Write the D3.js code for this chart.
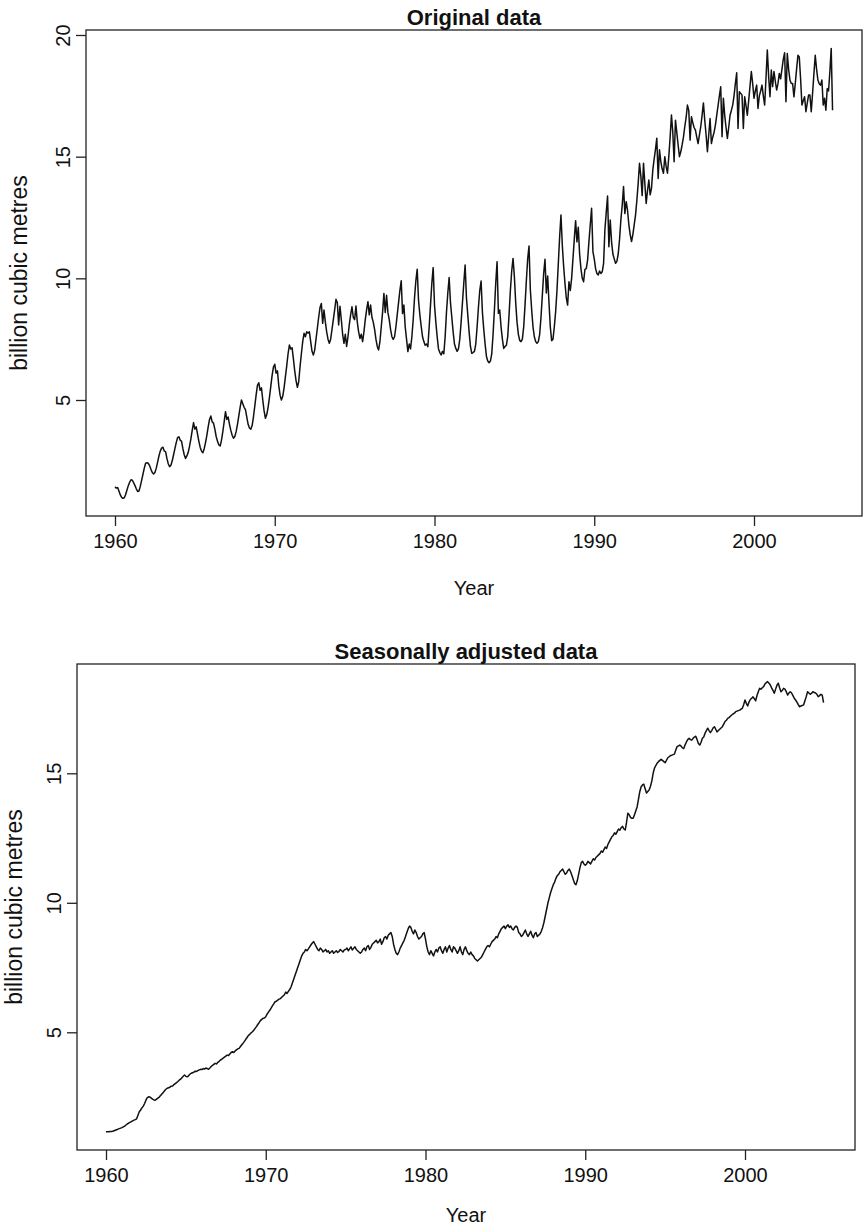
<!DOCTYPE html>
<html>
<head>
<meta charset="utf-8">
<script src="https://cdn.jsdelivr.net/npm/d3@7"></script>
<style>
  html, body { margin: 0; padding: 0; background: #fff; }
  svg { display: block; }
  text { font-family: "Liberation Sans", Arial, Helvetica, sans-serif; fill: #111; }
</style>
</head>
<body>
<svg id="chart" width="864" height="1231"></svg>
<script>
// ---------------- DATA (monthly, Jan 1960 - Dec 2004) ----------------
const startYear = 1960;
const xTickValues = [1960, 1970, 1980, 1990, 2000];
const yTicksOriginal = [5, 10, 15, 20];
const yTicksAdjusted = [5, 10, 15];
const panelTitles = ["Original data", "Seasonally adjusted data"];
const xAxisTitle = "Year";
const yAxisTitle = "billion cubic metres";

const originalValues = [
  1.43,1.38,1.40,1.25,1.10,1.00,0.96,0.98,1.12,1.30,1.48,1.62,        // 1960
  1.72,1.70,1.60,1.48,1.35,1.24,1.26,1.45,1.70,1.95,2.20,2.40,        // 1961
  2.42,2.40,2.30,2.15,2.02,1.96,2.02,2.20,2.45,2.70,2.90,3.02,        // 1962
  3.06,2.90,2.88,2.60,2.38,2.26,2.32,2.50,2.75,3.00,3.25,3.45,        // 1963
  3.49,3.35,3.30,3.00,2.75,2.60,2.70,2.85,3.10,3.40,3.75,4.07,        // 1964
  3.80,3.90,3.60,3.30,3.05,2.90,2.83,3.00,3.25,3.55,3.90,4.20,        // 1965
  4.34,4.10,4.05,3.80,3.50,3.30,3.15,3.11,3.35,3.70,4.10,4.52,        // 1966
  4.20,4.30,4.00,3.75,3.55,3.43,3.50,3.70,4.00,4.35,4.70,5.00,        // 1967
  4.85,4.70,4.60,4.30,4.00,3.85,3.80,3.95,4.30,4.75,5.20,5.60,        // 1968
  5.71,5.40,5.50,5.00,4.55,4.25,4.40,4.70,5.10,5.55,6.00,6.35,        // 1969
  6.47,6.10,6.20,5.60,5.20,5.00,5.15,5.50,5.95,6.40,6.90,7.26,        // 1970
  7.10,7.15,6.70,6.20,5.80,5.52,5.75,6.37,6.90,7.40,7.74,7.60,        // 1971
  7.80,7.75,7.80,7.40,7.00,6.85,7.05,7.50,7.95,8.40,8.80,8.97,        // 1972
  8.15,8.70,8.20,7.80,7.50,7.33,7.50,7.90,8.30,8.70,9.14,9.00,        // 1973
  8.08,8.85,8.30,7.70,7.33,7.70,7.20,7.60,8.10,8.50,8.83,8.40,        // 1974
  8.30,8.86,8.20,7.80,7.53,7.70,7.40,7.80,8.30,8.70,9.04,8.50,        // 1975
  8.90,8.40,8.20,7.90,7.50,7.20,7.06,7.40,8.00,8.60,9.38,8.60,        // 1976
  9.30,8.60,8.30,7.90,7.60,7.49,7.60,8.00,8.50,9.00,9.50,9.90,        // 1977
  8.55,8.90,8.00,7.50,6.99,7.30,7.10,7.60,8.30,9.20,9.90,10.37,       // 1978
  9.10,8.50,8.03,7.60,7.40,7.25,7.30,7.19,8.00,8.90,9.80,10.44,       // 1979
  8.90,8.20,7.60,7.10,6.95,6.85,7.00,6.90,7.60,8.60,9.40,10.03,       // 1980
  9.00,8.40,7.80,7.30,7.12,7.00,7.10,7.50,8.20,9.00,9.80,10.55,       // 1981
  9.20,8.50,7.80,7.20,6.92,6.95,7.00,7.30,8.00,8.80,9.50,9.89,        // 1982
  8.60,7.90,7.30,6.80,6.60,6.53,6.60,6.90,7.70,8.70,9.80,10.68,       // 1983
  8.56,8.70,8.00,7.50,7.12,7.20,7.25,7.60,8.50,9.50,10.30,10.82,      // 1984
  10.07,9.00,8.20,7.70,7.45,7.40,7.50,8.00,8.90,9.90,10.80,11.33,     // 1985
  9.52,8.70,8.00,7.60,7.40,7.33,7.40,7.70,8.40,9.30,10.20,10.78,      // 1986
  9.40,10.10,9.00,8.00,7.44,7.50,8.00,8.63,9.50,10.60,11.70,12.60,    // 1987
  11.37,10.50,9.80,9.20,8.90,9.86,9.50,10.00,10.80,11.60,12.37,11.50, // 1988
  12.10,11.00,10.40,10.00,9.86,10.37,10.40,10.75,11.50,12.20,12.88,11.10, // 1989
  10.80,10.40,10.20,10.14,10.30,10.20,10.27,10.60,11.99,12.70,13.38,11.30, // 1990
  12.40,11.50,11.00,10.80,10.62,10.70,11.00,11.60,12.40,13.00,13.77,12.66, // 1991
  13.15,12.80,12.20,11.80,11.51,11.80,12.20,12.60,13.20,13.90,14.73,14.20, // 1992
  13.40,14.73,13.90,13.08,13.60,14.04,13.43,13.70,14.46,14.90,15.30,15.76, // 1993
  14.10,15.28,14.80,14.50,14.32,15.00,14.60,14.32,15.00,15.80,16.71,16.00, // 1994
  14.79,16.50,16.00,15.48,15.00,15.20,15.48,15.80,16.23,16.60,17.12,16.90, // 1995
  15.68,16.64,16.40,16.20,16.09,15.80,15.54,15.90,16.23,16.70,17.21,16.50, // 1996
  15.90,15.20,15.90,16.57,15.54,15.80,16.00,16.30,16.70,17.10,17.50,17.87, // 1997
  15.82,17.40,16.70,16.20,15.75,16.20,16.70,16.90,17.12,17.50,18.00,18.45, // 1998
  16.16,17.67,17.60,17.53,16.16,17.46,17.10,16.70,17.30,17.90,18.50,18.00, // 1999
  17.40,17.70,17.94,16.98,17.50,17.70,17.94,17.50,17.12,18.20,19.38,18.30, // 2000
  17.46,18.56,17.88,18.50,18.10,17.74,18.00,18.42,18.20,18.60,19.00,19.27, // 2001
  17.26,19.24,18.60,18.15,18.01,18.01,17.46,18.00,18.60,19.17,19.10,18.20, // 2002
  17.12,17.30,17.46,16.85,17.20,17.53,17.53,16.85,17.60,18.40,19.17,18.60, // 2003
  18.15,18.00,17.94,18.15,17.12,17.40,16.91,17.80,17.70,18.50,19.45,16.91  // 2004
];

const adjustedValues = [
  1.16,1.16,1.16,1.17,1.17,1.18,1.20,1.22,1.24,1.26,1.28,1.30,        // 1960
  1.32,1.35,1.38,1.42,1.46,1.49,1.52,1.55,1.58,1.61,1.63,1.66,        // 1961
  1.80,1.93,2.00,2.08,2.15,2.25,2.38,2.48,2.51,2.50,2.46,2.42,        // 1962
  2.39,2.38,2.42,2.46,2.50,2.56,2.62,2.68,2.74,2.80,2.84,2.86,        // 1963
  2.88,2.92,2.93,2.98,3.02,3.06,3.10,3.15,3.19,3.24,3.30,3.35,        // 1964
  3.30,3.28,3.32,3.38,3.42,3.44,3.46,3.50,3.49,3.52,3.55,3.57,        // 1965
  3.56,3.60,3.58,3.62,3.60,3.57,3.62,3.68,3.72,3.76,3.80,3.78,        // 1966
  3.84,3.88,3.93,3.96,4.00,4.04,4.08,4.12,4.10,4.16,4.22,4.25,        // 1967
  4.22,4.28,4.32,4.36,4.38,4.45,4.52,4.58,4.65,4.73,4.80,4.88,        // 1968
  4.92,4.98,5.02,5.08,5.15,5.22,5.30,5.37,5.45,5.50,5.54,5.55,        // 1969
  5.60,5.70,5.78,5.85,5.93,6.02,6.10,6.18,6.20,6.24,6.28,6.30,        // 1970
  6.35,6.40,6.45,6.55,6.50,6.58,6.65,6.75,6.90,7.05,7.20,7.35,        // 1971
  7.50,7.65,7.80,7.95,8.05,8.10,8.20,8.15,8.22,8.30,8.38,8.45,        // 1972
  8.50,8.40,8.30,8.20,8.15,8.25,8.20,8.10,8.15,8.20,8.10,8.15,        // 1973
  8.05,8.10,8.15,8.05,8.10,8.15,8.08,8.12,8.20,8.15,8.10,8.18,        // 1974
  8.20,8.25,8.15,8.22,8.30,8.18,8.24,8.30,8.20,8.15,8.10,8.05,        // 1975
  8.10,8.20,8.25,8.15,8.30,8.35,8.20,8.28,8.40,8.45,8.50,8.55,        // 1976
  8.45,8.50,8.60,8.40,8.50,8.65,8.70,8.60,8.75,8.80,8.85,8.70,        // 1977
  8.40,8.20,8.05,8.00,8.10,8.25,8.35,8.45,8.55,8.70,8.85,9.00,        // 1978
  9.10,9.05,8.90,8.80,8.95,8.85,8.70,8.60,8.65,8.70,8.80,8.85,        // 1979
  8.60,8.30,8.10,8.00,8.15,8.05,7.95,8.10,8.20,8.10,8.25,8.30,        // 1980
  8.15,8.05,8.20,8.30,8.10,8.25,8.35,8.20,8.10,8.30,8.25,8.15,        // 1981
  8.05,8.15,8.30,8.10,8.00,8.20,8.30,8.15,8.05,8.00,8.10,8.00,        // 1982
  7.95,7.85,7.80,7.75,7.80,7.85,7.90,8.00,8.10,8.20,8.30,8.35,        // 1983
  8.30,8.40,8.50,8.55,8.60,8.70,8.65,8.80,8.90,9.00,9.05,9.10,        // 1984
  9.00,9.10,9.15,9.05,9.10,9.00,8.95,9.05,9.10,9.05,8.85,8.80,        // 1985
  8.70,8.75,8.85,8.95,8.80,8.70,8.80,8.90,8.75,8.65,8.80,8.85,        // 1986
  8.70,8.75,8.80,8.90,9.05,9.25,9.50,9.75,10.00,10.20,10.40,10.55,    // 1987
  10.70,10.80,10.95,11.05,11.10,11.20,11.25,11.30,11.20,11.10,11.15,11.25, // 1988
  11.30,11.20,11.05,10.90,10.75,10.70,10.85,11.10,11.35,11.55,11.60,11.50, // 1989
  11.45,11.50,11.60,11.55,11.50,11.60,11.70,11.65,11.75,11.80,11.85,11.90, // 1990
  12.00,11.95,12.05,12.15,12.10,12.25,12.35,12.45,12.55,12.60,12.70,12.65, // 1991
  12.75,12.85,12.80,12.90,12.95,12.85,12.81,13.10,13.46,13.40,13.30,13.26, // 1992
  13.26,13.40,13.55,13.71,14.00,14.30,14.48,14.55,14.58,14.40,14.24,14.30, // 1993
  14.36,14.50,14.70,15.00,15.20,15.30,15.39,15.45,15.50,15.54,15.50,15.45, // 1994
  15.41,15.50,15.60,15.64,15.68,15.70,15.72,15.74,15.90,16.03,16.06,16.09, // 1995
  16.05,15.98,15.96,16.10,16.21,16.30,16.35,16.30,16.28,16.35,16.40,16.43, // 1996
  16.30,16.15,16.09,16.20,16.35,16.40,16.55,16.65,16.74,16.65,16.57,16.65, // 1997
  16.75,16.80,16.70,16.60,16.65,16.70,16.75,16.80,16.90,17.00,17.05,17.12, // 1998
  17.15,17.20,17.25,17.29,17.32,17.38,17.40,17.42,17.44,17.48,17.51,17.65, // 1999
  17.83,17.70,17.60,17.75,17.85,17.90,17.95,17.88,17.80,18.00,18.15,18.28, // 2000
  18.25,18.30,18.35,18.45,18.50,18.54,18.48,18.41,18.30,18.20,18.09,18.25, // 2001
  18.40,18.48,18.30,18.15,18.20,18.28,18.25,18.15,18.02,18.10,18.15,18.10, // 2002
  18.00,17.90,17.83,17.75,17.65,17.57,17.60,17.62,17.64,17.80,17.96,18.15, // 2003
  18.10,18.05,18.09,18.15,18.12,18.10,18.05,17.96,18.00,18.05,18.02,17.73  // 2004
];

// ---------------- DRAWING ----------------
const svg = d3.select("#chart");

function drawPanel(cfg) {
  const { values, title, yTicks, box, xMap, yMap, titleY, xTitleY, yTitleX } = cfg;
  const data = values.map((v, i) => ({ t: startYear + i / 12, v }));

  const x = d3.scaleLinear().domain(xMap.domain).range(xMap.range);
  const y = d3.scaleLinear().domain(yMap.domain).range(yMap.range);

  const g = svg.append("g");

  g.append("rect")
    .attr("x", box.left).attr("y", box.top)
    .attr("width", box.right - box.left).attr("height", box.bottom - box.top)
    .attr("fill", "none").attr("stroke", "#222").attr("stroke-width", 1.3);

  const xAxis = g.append("g")
    .attr("transform", `translate(0,${box.bottom})`)
    .call(d3.axisBottom(x).tickValues(xTickValues).tickFormat(d3.format("d")).tickSize(10).tickSizeOuter(0));
  xAxis.select(".domain").remove();
  xAxis.selectAll(".tick line").attr("stroke", "#222").attr("stroke-width", 1.3);
  xAxis.selectAll(".tick text")
    .attr("y", 32).attr("dy", null)
    .style("font-size", "20px").attr("fill", "#111");

  const yAxis = g.append("g")
    .attr("transform", `translate(${box.left},0)`)
    .call(d3.axisLeft(y).tickValues(yTicks).tickSize(10).tickSizeOuter(0));
  yAxis.select(".domain").remove();
  yAxis.selectAll(".tick line").attr("stroke", "#222").attr("stroke-width", 1.3);
  yAxis.selectAll(".tick text")
    .attr("x", null).attr("dy", null)
    .attr("text-anchor", "middle")
    .attr("transform", "translate(-16,0) rotate(-90)")
    .style("font-size", "20px").attr("fill", "#111");

  const line = d3.line().x(d => x(d.t)).y(d => y(d.v));
  g.append("path")
    .datum(data)
    .attr("d", line)
    .attr("fill", "none")
    .attr("stroke", "#111")
    .attr("stroke-width", 1.5)
    .attr("stroke-linejoin", "round");

  const cx = (box.left + box.right) / 2;
  g.append("text")
    .attr("x", cx).attr("y", titleY)
    .attr("text-anchor", "middle")
    .style("font-size", "22px").style("font-weight", "bold")
    .text(title);

  g.append("text")
    .attr("x", cx).attr("y", xTitleY)
    .attr("text-anchor", "middle")
    .style("font-size", "20px")
    .text(xAxisTitle);

  const cy = (box.top + box.bottom) / 2;
  g.append("text")
    .attr("transform", `translate(${yTitleX},${cy}) rotate(-90)`)
    .attr("text-anchor", "middle")
    .style("font-size", "23px")
    .text(yAxisTitle);
}

drawPanel({
  values: originalValues,
  title: panelTitles[0],
  yTicks: yTicksOriginal,
  box: { left: 86, right: 862, top: 30, bottom: 516 },
  xMap: { domain: [1960, 2000], range: [115, 754] },
  yMap: { domain: [5, 20], range: [400, 35] },
  titleY: 25,
  xTitleY: 595,
  yTitleX: 27
});

drawPanel({
  values: adjustedValues,
  title: panelTitles[1],
  yTicks: yTicksAdjusted,
  box: { left: 77, right: 855, top: 664, bottom: 1150 },
  xMap: { domain: [1960, 2000], range: [106, 745] },
  yMap: { domain: [5, 15], range: [1032.3, 773.3] },
  titleY: 659,
  xTitleY: 1222,
  yTitleX: 21.5
});
</script>
</body>
</html>
